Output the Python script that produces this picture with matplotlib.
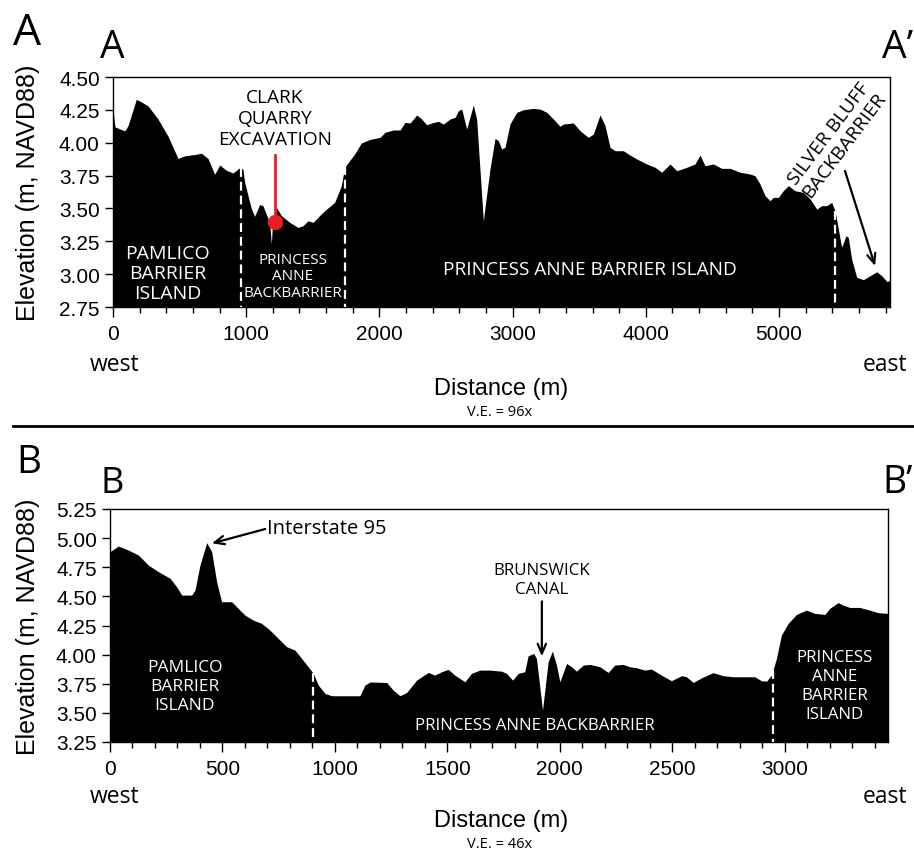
import numpy as np
import matplotlib
matplotlib.use('Agg')
import matplotlib.pyplot as plt
from matplotlib.lines import Line2D
from matplotlib.ticker import MultipleLocator, FormatStrFormatter

# Profile A - A' : distance (m) and elevation (m, NAVD88)
a_dist = [0, 15, 40, 88, 113, 175, 213, 263, 338, 413, 488, 538, 613, 663, 713,
          763, 801, 851, 901, 951, 975, 988, 1038, 1063, 1101, 1126, 1176, 1189,
          1198, 1226, 1264, 1326, 1389, 1426, 1464, 1502, 1551, 1589, 1664, 1714,
          1739, 1814, 1864, 1929, 2005, 2042, 2105, 2155, 2192, 2230, 2280, 2317,
          2355, 2392, 2442, 2480, 2530, 2568, 2593, 2618, 2655, 2705, 2730, 2780,
          2830, 2868, 2893, 2918, 2943, 2980, 3031, 3080, 3155, 3206, 3256, 3306,
          3356, 3381, 3456, 3506, 3568, 3606, 3656, 3694, 3731, 3769, 3831, 3881,
          3932, 4007, 4069, 4119, 4182, 4232, 4307, 4369, 4407, 4444, 4507, 4570,
          4632, 4707, 4782, 4820, 4857, 4895, 4932, 4957, 4995, 5032, 5070, 5120,
          5182, 5233, 5283, 5320, 5358, 5395, 5420, 5445, 5470, 5503, 5520, 5545,
          5583, 5633, 5683, 5733, 5771, 5808, 5833]
a_elev = [4.25, 4.12, 4.11, 4.09, 4.13, 4.33, 4.31, 4.28, 4.18, 4.05, 3.88, 3.90,
          3.91, 3.92, 3.88, 3.76, 3.83, 3.79, 3.77, 3.81, 3.80, 3.70, 3.50, 3.44,
          3.53, 3.52, 3.39, 3.23, 3.40, 3.51, 3.445, 3.394, 3.356, 3.368, 3.406,
          3.394, 3.445, 3.483, 3.546, 3.673, 3.813, 3.914, 3.998, 4.025, 4.041,
          4.079, 4.097, 4.097, 4.155, 4.150, 4.211, 4.180, 4.137, 4.150, 4.163,
          4.142, 4.180, 4.193, 4.244, 4.256, 4.104, 4.287, 4.180, 3.406, 3.800,
          4.033, 4.015, 3.952, 3.965, 4.142, 4.231, 4.251, 4.261, 4.256, 4.231,
          4.180, 4.125, 4.142, 4.150, 4.091, 4.041, 4.066, 4.211, 4.130, 3.965,
          3.939, 3.939, 3.906, 3.876, 3.838, 3.813, 3.775, 3.838, 3.787, 3.813,
          3.838, 3.906, 3.825, 3.838, 3.805, 3.805, 3.775, 3.762, 3.749, 3.686,
          3.597, 3.559, 3.584, 3.584, 3.635, 3.673, 3.635, 3.622, 3.572, 3.495,
          3.521, 3.521, 3.546, 3.483, 3.343, 3.204, 3.292, 3.280, 3.115, 2.976,
          2.958, 2.988, 3.018, 2.988, 2.945, 2.950]
a_bounds = [963, 1744, 5420]
quarry_dist = 1216
quarry_elev = 3.40
quarry_top = 3.91

# Profile B - B'
b_dist = [0, 37, 81, 126, 170, 215, 267, 296, 319, 363, 378, 400, 430, 452, 474,
          496, 541, 570, 600, 637, 674, 711, 748, 785, 822, 852, 881, 904, 926,
          956, 985, 1044, 1111, 1133, 1156, 1230, 1259, 1289, 1319, 1363, 1415,
          1444, 1474, 1504, 1533, 1578, 1607, 1644, 1689, 1741, 1763, 1790, 1815,
          1844, 1859, 1884, 1896, 1923, 1948, 1967, 1985, 2000, 2030, 2052, 2074,
          2104, 2133, 2178, 2215, 2244, 2281, 2311, 2341, 2378, 2407, 2452, 2496,
          2541, 2563, 2593, 2630, 2681, 2726, 2770, 2815, 2867, 2896, 2919, 2941,
          2963, 2985, 3015, 3052, 3096, 3133, 3178, 3200, 3237, 3259, 3289, 3333,
          3378, 3415, 3459]
b_elev = [4.884, 4.932, 4.898, 4.855, 4.769, 4.712, 4.655, 4.583, 4.511, 4.511,
          4.554, 4.769, 4.961, 4.884, 4.626, 4.454, 4.454, 4.397, 4.339, 4.296,
          4.268, 4.210, 4.139, 4.068, 4.039, 3.967, 3.896, 3.839, 3.738, 3.667,
          3.647, 3.647, 3.647, 3.738, 3.765, 3.761, 3.695, 3.647, 3.675, 3.781,
          3.847, 3.824, 3.853, 3.873, 3.824, 3.767, 3.839, 3.867, 3.867, 3.858,
          3.839, 3.781, 3.839, 3.853, 3.990, 4.010, 3.967, 3.523, 3.939, 4.030,
          3.910, 3.767, 3.924, 3.896, 3.858, 3.910, 3.916, 3.896, 3.847, 3.910,
          3.916, 3.896, 3.887, 3.867, 3.876, 3.824, 3.776, 3.819, 3.810, 3.761,
          3.801, 3.845, 3.819, 3.810, 3.810, 3.810, 3.776, 3.772, 3.824, 3.967,
          4.168, 4.268, 4.345, 4.382, 4.354, 4.345, 4.397, 4.446, 4.425, 4.405,
          4.405, 4.382, 4.360, 4.354]
b_bounds = [904, 2948]

LAB = 'Open Sans'
plt.rcParams['font.family'] = ['Liberation Sans', 'DejaVu Sans']
RED = '#ec1c24'

W, H = 914, 853
fig = plt.figure(figsize=(W / 100, H / 100), dpi=100)


def box(l, t, r, b):
    return [l / W, 1 - b / H, (r - l) / W, (b - t) / H]


def profile_axes(ax, dist, elev, bounds, ylo, yhi, major, minor):
    ax.fill_between(dist, elev, ylo, color='black', lw=0)
    for xb in bounds:
        ax.plot([xb, xb], [np.interp(xb, dist, elev), ylo], color='white',
                lw=1.6, ls=(0, (4, 2.2)), zorder=3)
    ax.set_xlim(0, dist[-1])
    ax.set_ylim(ylo, yhi)
    ax.yaxis.set_major_locator(MultipleLocator(0.25))
    ax.yaxis.set_major_formatter(FormatStrFormatter('%.2f'))
    ax.xaxis.set_major_locator(MultipleLocator(major))
    ax.xaxis.set_minor_locator(MultipleLocator(minor))
    ax.tick_params(axis='x', which='major', direction='out', length=7.5,
                   width=1, pad=5, labelsize=15)
    ax.tick_params(axis='x', which='minor', direction='out', length=4.5, width=1)
    ax.tick_params(axis='y', direction='out', length=5.5, width=1, pad=4,
                   labelsize=15)
    for s in ax.spines.values():
        s.set_linewidth(1.0)
    ax.set_ylabel('Elevation (m, NAVD88)', fontsize=18)
    ax.yaxis.label.set_va('center')


axA = fig.add_axes(box(113, 78, 890, 308))
axB = fig.add_axes(box(110, 510, 888, 743))
profile_axes(axA, a_dist, a_elev, a_bounds, 2.75, 4.50, 1000, 200)
profile_axes(axB, b_dist, b_elev, b_bounds, 3.25, 5.25, 500, 100)
axA.yaxis.set_label_coords((28 - 113) / 777, 0.5)
axB.yaxis.set_label_coords((28 - 110) / 778, 0.5)

arrow_kw = dict(arrowstyle='->,head_length=0.7,head_width=0.3', color='black',
                lw=1.6, shrinkA=0, shrinkB=0)

# panel A annotations
axA.text(409, 3.008, 'PAMLICO\nBARRIER\nISLAND', color='white', ha='center',
         va='center', family=LAB, fontsize=14, linespacing=1.15)
axA.text(1351, 2.986, 'PRINCESS\nANNE\nBACKBARRIER', color='white', ha='center',
         va='center', family=LAB, fontsize=11, linespacing=1.15)
axA.text(3581, 3.039, 'PRINCESS ANNE BARRIER ISLAND', color='white',
         ha='center', va='center', family=LAB, fontsize=13.7)
axA.text(1216, 4.188, 'CLARK\nQUARRY\nEXCAVATION', color='black', ha='center',
         va='center', family=LAB, fontsize=13.7, linespacing=1.2)
axA.plot([quarry_dist, quarry_dist], [quarry_top, quarry_elev], color=RED, lw=2)
axA.plot([quarry_dist], [quarry_elev], 'o', color=RED, ms=10)
axA.text(5430, 4.03, 'SILVER BLUFF\nBACKBARRIER', rotation=53, ha='center',
         va='center', family=LAB, fontsize=14, linespacing=1.1)
axA.annotate('', xy=(5721, 3.062), xytext=(5495, 3.785), arrowprops=arrow_kw)

# panel B annotations
axB.text(698, 5.084, 'Interstate 95', ha='left', va='center', family=LAB,
         fontsize=14.5)
axB.annotate('', xy=(453, 4.955), xytext=(690, 5.078), arrowprops=arrow_kw)
axB.text(333, 3.727, 'PAMLICO\nBARRIER\nISLAND', color='white', ha='center',
         va='center', family=LAB, fontsize=12.5, linespacing=1.25)
axB.text(1920, 4.646, 'BRUNSWICK\nCANAL', ha='center', va='center', family=LAB,
         fontsize=12.2, linespacing=1.3)
axB.annotate('', xy=(1920, 3.985), xytext=(1920, 4.457), arrowprops=arrow_kw)
axB.text(1889, 3.392, 'PRINCESS ANNE BACKBARRIER', color='white', ha='center',
         va='center', family=LAB, fontsize=12.2)
axB.text(3222, 3.735, 'PRINCESS\nANNE\nBARRIER\nISLAND', color='white',
         ha='center', va='center', family=LAB, fontsize=12.2, linespacing=1.25)

# panel letters and section end labels
for txt, x, y, fs in [('A', 13, 45, 32), ('A', 100, 58, 28), ('A\u2019', 882, 58, 28),
                      ('B', 16, 473, 28), ('B', 100, 493, 26), ('B\u2019', 882, 493, 27)]:
    fig.text(x / W, 1 - y / H, txt, fontsize=fs, family=LAB, va='baseline')

for (west_y, dist_y, ve_y, ve) in [(365, 389, 413, 'V.E. = 96x'),
                                   (797, 821, 845, 'V.E. = 46x')]:
    fig.text(115 / W, 1 - west_y / H, 'west', ha='center', va='center',
             family=LAB, fontsize=16.5)
    fig.text(885 / W, 1 - west_y / H, 'east', ha='center', va='center',
             family=LAB, fontsize=16.5)
    fig.text(501 / W, 1 - dist_y / H, 'Distance (m)', ha='center', va='center',
             fontsize=17)
    fig.text(500 / W, 1 - ve_y / H, ve, ha='center', va='center', family=LAB,
             fontsize=10.5)

fig.add_artist(Line2D([13 / W, 1.0], [1 - 427 / H, 1 - 427 / H], color='black',
                      lw=2))

fig.savefig('out.png', dpi=100)
